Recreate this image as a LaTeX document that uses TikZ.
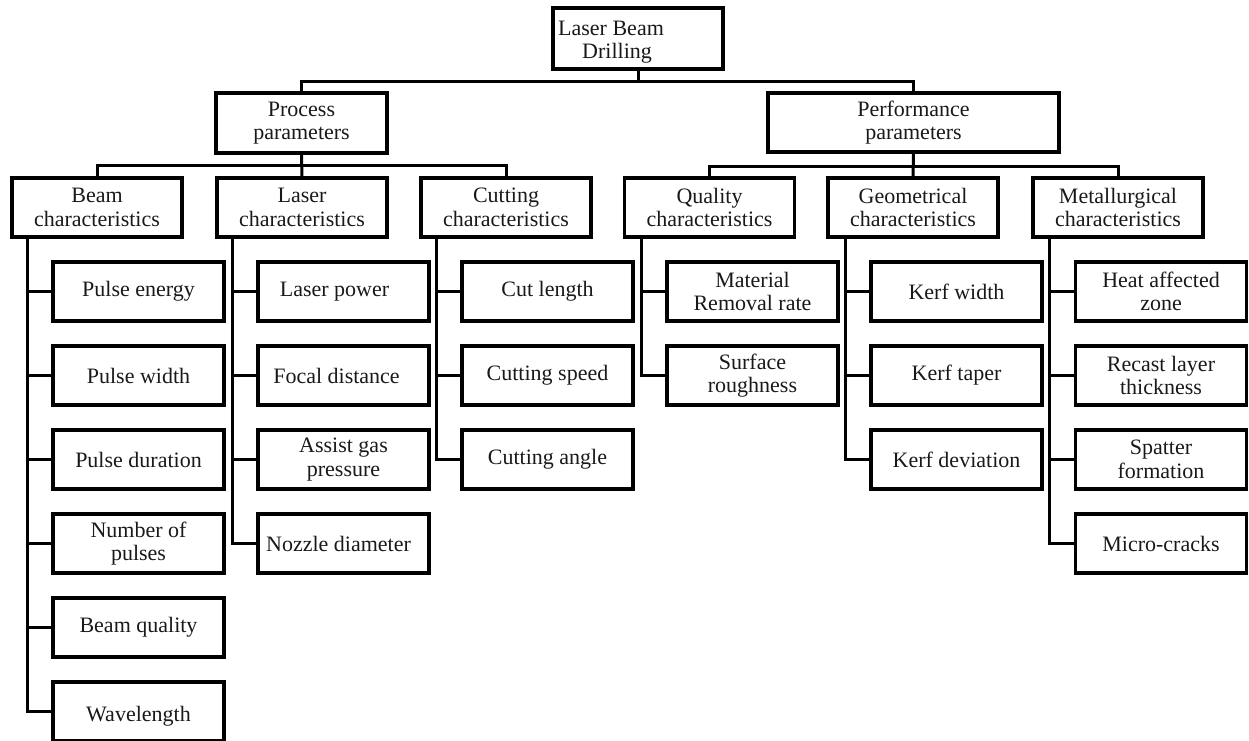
\documentclass[tikz,border=0pt]{standalone}
\usepackage{fontspec}
\setmainfont{Liberation Serif}
\begin{document}
\begin{tikzpicture}[x=1pt,y=-1pt,
  box/.style={draw=black, line width=3.4pt, rectangle, align=center,
    minimum width=170pt, minimum height=59pt, inner sep=0pt,
    font=\fontsize{22}{23.5}\selectfont, text=black!90},
  leaf/.style={box, minimum width=171pt},
  conn/.style={draw=black, line width=3pt}]
\useasboundingbox (0,0) rectangle (1249,740);

% root and first level
\node[box, minimum height=61pt] (root) at (638,38.5) {};
\node[align=left, anchor=west, inner sep=0pt, text=black!90,
  font=\fontsize{22}{23.5}\selectfont] (roottext) at (558,42)
  {Laser Beam\\\hspace*{24pt}Drilling};
\node[box, minimum width=171pt, minimum height=60pt] (proc) at (301.5,123) {Process\\parameters};
\node[box, minimum width=291pt] (perf) at (913.5,122.5) {Performance\\parameters};

% second level
\node[box] (beam) at (97,207.5) {Beam\\characteristics};
\node[box] (laser) at (302,207.5) {Laser\\characteristics};
\node[box] (cut) at (506,207.5) {Cutting\\characteristics};
\node[box] (qual) at (709.5,207.5) {Quality\\characteristics};
\node[box] (geom) at (913,207.5) {Geometrical\\characteristics};
\node[box] (metal) at (1118,207.5) {Metallurgical\\characteristics};

% beam characteristics
\node[leaf] (b1) at (138.5,291.5) {Pulse energy};
\node[leaf] (b2) at (138.5,375.5) {Pulse width};
\node[leaf] (b3) at (138.5,459.5) {Pulse duration};
\node[leaf] (b4) at (138.5,543.5) {Number of\\pulses};
\node[leaf] (b5) at (138.5,627.5) {Beam quality};
\node[leaf] (b6) at (138.5,711.5) {\raisebox{-10pt}[0pt][0pt]{Wavelength}};

% laser characteristics
\node[leaf] (l1) at (343.5,291.5) {\hspace*{-18pt}Laser power};
\node[leaf] (l2) at (343.5,375.5) {\hspace*{-14pt}Focal distance};
\node[leaf] (l3) at (343.5,459.5) {Assist gas\\pressure};
\node[leaf] (l4) at (343.5,543.5) {\hspace*{-10pt}Nozzle diameter};

% cutting characteristics
\node[leaf] (c1) at (547.5,291.5) {Cut length};
\node[leaf] (c2) at (547.5,375.5) {Cutting speed};
\node[leaf] (c3) at (547.5,459.5) {Cutting angle};

% quality characteristics
\node[leaf] (q1) at (752.5,291.5) {Material\\Removal rate};
\node[leaf] (q2) at (752.5,375.5) {Surface\\roughness};

% geometrical characteristics
\node[leaf] (g1) at (956.5,291.5) {Kerf width};
\node[leaf] (g2) at (956.5,375.5) {Kerf taper};
\node[leaf] (g3) at (956.5,459.5) {Kerf deviation};

% metallurgical characteristics
\node[leaf] (m1) at (1161,291.5) {Heat affected\\zone};
\node[leaf] (m2) at (1161,375.5) {Recast layer\\thickness};
\node[leaf] (m3) at (1161,459.5) {Spatter\\formation};
\node[leaf] (m4) at (1161,543.5) {Micro-cracks};

% upper buses
\draw[conn] (root.south) -- (root.south |- 0,81);
\draw[conn] (proc.north) -- (proc.north |- 0,81) -- (perf.north |- 0,81) -- (perf.north);
\draw[conn] (proc.south) -- (laser.north);
\draw[conn] (beam.north) -- (beam.north |- 0,165) -- (cut.north |- 0,165) -- (cut.north);
\draw[conn] (perf.south) -- (geom.north);
\draw[conn] (qual.north) -- (qual.north |- 0,166) -- (metal.north |- 0,166) -- (metal.north);

% trunk lines, each 24pt left of its leaf column
\coordinate (bt) at ([xshift=-24pt]b1.west);
\coordinate (lt) at ([xshift=-24pt]l1.west);
\coordinate (ct) at ([xshift=-24pt]c1.west);
\coordinate (qt) at ([xshift=-24pt]q1.west);
\coordinate (gt) at ([xshift=-24pt]g1.west);
\coordinate (mt) at ([xshift=-24pt]m1.west);

\draw[conn] (bt |- beam.south) |- (b6.west);
\foreach \n in {b1,b2,b3,b4,b5} \draw[conn] (\n.west) -- (\n.west -| bt);
\draw[conn] (lt |- laser.south) |- (l4.west);
\foreach \n in {l1,l2,l3} \draw[conn] (\n.west) -- (\n.west -| lt);
\draw[conn] (ct |- cut.south) |- (c3.west);
\foreach \n in {c1,c2} \draw[conn] (\n.west) -- (\n.west -| ct);
\draw[conn] (qt |- qual.south) |- (q2.west);
\draw[conn] (q1.west) -- (q1.west -| qt);
\draw[conn] (gt |- geom.south) |- (g3.west);
\foreach \n in {g1,g2} \draw[conn] (\n.west) -- (\n.west -| gt);
\draw[conn] (mt |- metal.south) |- (m4.west);
\foreach \n in {m1,m2,m3} \draw[conn] (\n.west) -- (\n.west -| mt);
\end{tikzpicture}
\end{document}
